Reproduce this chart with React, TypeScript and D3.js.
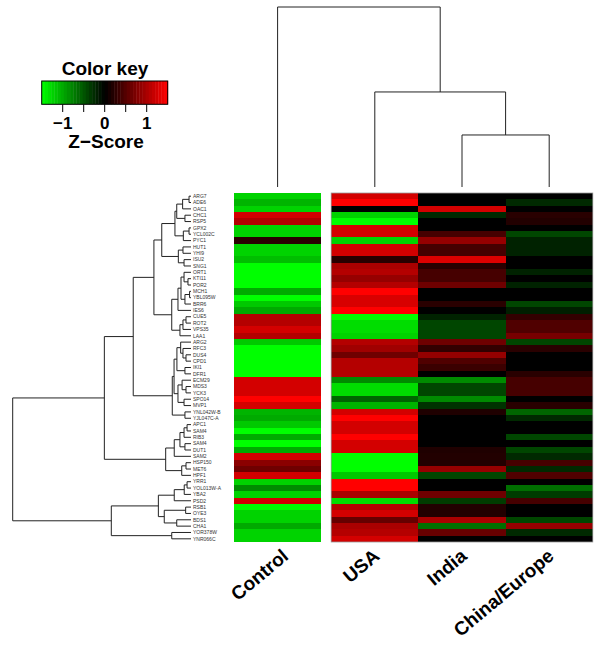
import React from 'react';
import * as d3 from 'd3';

// gene labels, top to bottom (same order as the dendrogram leaves)
const geneLabels = [
  'ARG7', 'ADE6', 'OAC1', 'CHC1', 'RSP5', 'GPX2', 'YCL002C', 'PYC1', 'HUT1', 'YHI9',
  'ISU2', 'SNG1', 'ORT1', 'KTI11', 'POR2', 'MCH1', 'YBL095W', 'BRR6', 'IES6', 'CUE5',
  'ROT2', 'VPS35', 'LAA1', 'ARG2', 'RFC3', 'DUS4', 'CPD1', 'IKI1', 'DFR1', 'ECM29',
  'MDS3', 'YCK3', 'SPO14', 'MVP1', 'YNL042W-B', 'YJL047C-A', 'APC1', 'SAM4', 'RIB3', 'SAM4',
  'DUT1', 'SAM2', 'HSP150', 'MET6', 'HPF1', 'YRR1', 'YOL013W-A', 'YBA2', 'PSD2', 'RSB1',
  'OYE3', 'BDS1', 'CHA1', 'YOR378W', 'YNR066C',
];

const conditions = ['Control', 'USA', 'India', 'China/Europe'];

// z-scores per condition, one value per gene
const controlZ = [
  -1.24, -1.06, -1.24, 1.24, 1.06, -1.24, -1.24, 0.24, -1.24, -1.24,
  -1.12, -1.5, -1.5, -1.5, -1.5, -1.0, -1.5, -1.18, -1.0, 1.06,
  1.06, 1.24, 1.06, -1.18, -1.5, -1.5, -1.5, -1.5, -1.5, 1.24,
  1.24, 1.24, 1.5, 1.24, -1.06, -1.0, -1.18, -1.5, -1.0, -1.5,
  -1.0, 1.24, 0.82, 0.65, 1.24, -1.24, -0.82, -1.24, 1.24, -1.5,
  -1.24, -1.24, -1.0, -1.24, -1.24,
];
const usaZ = [
  1.24, 1.5, 0, -1.24, -1.5, 1.24, 1.24, -1.24, 1.24, 1.24,
  0.24, 1.0, 1.06, 0.88, 1.06, 1.5, 1.27, 1.27, 1.5, -1.5,
  -1.3, -1.3, -1.24, 1.06, 0.94, 0.65, 1.06, 1.06, 1.06, -0.82,
  -1.3, -1.3, -0.6, -1.06, 1.24, 1.5, 1.24, 1.24, 1.5, 1.24,
  1.24, -1.5, -1.5, -1.5, -1.18, 1.5, 1.5, 1.0, -1.3, 1.06,
  1.24, 0.6, 1.0, 1.06, 1.24,
];
const indiaZ = [
  0, 0, 1.24, -0.24, 0, 0, 0.41, 0.88, 0.41, 0.41,
  1.3, 0.24, 0.41, 0.41, 0.65, 0, 0, 0.24, 0, -0.2,
  -0.41, -0.41, -0.41, 0.65, 0.3, 0.88, 0.47, 0.35, 0, -0.82,
  -0.41, -0.41, -0.82, -0.3, 0.18, 0, 0, 0, 0, 0,
  0.18, 0.2, 0.2, 0.88, -0.41, 0, 0, 0.65, -0.35, 0.2,
  0.2, 1.0, -0.65, 0.6, 0,
];
const chinaZ = [
  0, -0.24, 0, 0.24, 0.2, 0, -0.41, -0.2, -0.2, -0.2,
  0, 0, -0.2, 0, -0.2, 0, 0, -0.41, -0.18, 0.3,
  0.47, 0.47, 0.7, -0.41, 0.24, 0, 0, 0, 0.24, 0.41,
  0.41, 0.41, 0, 0.24, -0.6, -0.24, 0, 0, -0.41, 0,
  -0.41, -0.24, 0.41, -0.24, 0.47, 0, -0.65, -0.35, 0.41, 0,
  0, -0.41, 0.88, -0.24, 0,
];

// dendrograms: [height, left, right], leaves are labels
type TreeNode = string | [number, TreeNode, TreeNode];

const rowTree: TreeNode = [10.0,
  [4.86,
    [3.24,
      [2.08,
        [1.64,
          [0.90,
            [0.80,
              [0.47, [0.11, 'ARG7', 'ADE6'], 'OAC1'],
              [0.34, 'CHC1', 'RSP5']],
            [0.43, [0.11, 'GPX2', 'YCL002C'], 'PYC1']],
          [0.71, [0.45, 'HUT1', 'YHI9'], [0.39, 'ISU2', 'SNG1']]],
        [1.08,
          [0.73,
            [0.56,
              [0.39, 'ORT1', [0.17, 'KTI11', 'POR2']],
              [0.34, [0.08, 'MCH1', 'YBL095W'], 'BRR6']],
            'IES6'],
          [0.62, [0.45, [0.28, 'CUE5', 'ROT2'], 'VPS35'], 'LAA1']]],
      [1.05,
        [0.95,
          [0.79,
            [0.58, 'ARG2', [0.45, 'RFC3', [0.28, 'DUS4', 'CPD1']]],
            [0.34, 'IKI1', 'DFR1']],
          [0.73,
            [0.5, 'ECM29', [0.28, 'MDS3', 'YCK3']],
            [0.39, 'SPO14', 'MVP1']]],
        [0.34, 'YNL042W-B', 'YJL047C-A']]],
    [1.42,
      [0.94,
        [0.62,
          [0.39, [0.22, 'APC1', 'SAM4'], 'RIB3'],
          [0.34, 'SAM4', 'DUT1']],
        'SAM2'],
      [0.52, [0.28, 'HSP150', 'MET6'], 'HPF1']]],
  [4.47,
    [1.83,
      [0.94, [0.38, [0.22, 'YRR1', 'YOL013W-A'], 'YBA2'], 'PSD2'],
      [1.50, [0.30, 'RSB1', 'OYE3'], [0.80, 'BDS1', 'CHA1']]],
    [1.08, 'YOR378W', 'YNR066C']]];

const colTree: TreeNode = [10.0, 'Control', [5.28, 'USA', [2.89, 'India', 'China/Europe']]];

const keyTicks = [-1, -0.5, 0, 0.5, 1];
const keyLabels = [-1, 0, 1];

const FONT = '"Liberation Sans", Arial, Helvetica, sans-serif';

// walk a tree, leaves take positions in order; returns one elbow path per merge
function treePaths(tree: TreeNode, leafPos: (i: number) => number, hPos: (h: number) => number,
  horizontal: boolean) {
  const paths: string[] = [];
  let n = 0;
  const pt = (p: number, h: number) => (horizontal ? `${hPos(h)},${p}` : `${p},${hPos(h)}`);
  const walk = (node: TreeNode): { p: number; h: number } => {
    if (typeof node === 'string') return { p: leafPos(n++), h: 0 };
    const [h, a, b] = node;
    const ca = walk(a);
    const cb = walk(b);
    paths.push(`M${pt(ca.p, ca.h)}L${pt(ca.p, h)}L${pt(cb.p, h)}L${pt(cb.p, cb.h)}`);
    return { p: (ca.p + cb.p) / 2, h };
  };
  walk(tree);
  return paths;
}

export default function App() {
  const top = 193;
  const bottom = 542;
  const colW = 87.2;
  const gap = 10;
  const left = 234;

  const values = [controlZ, usaZ, indiaZ, chinaZ];
  const colX = (i: number) => left + i * colW + (i > 0 ? gap : 0);

  const y = d3.scaleBand<number>().domain(d3.range(geneLabels.length)).range([top, bottom]);
  const color = d3.scaleLinear<string>()
    .domain([-1.5, 0, 1.5])
    .range(['#00ff00', '#000000', '#ff0000'])
    .clamp(true);

  // row dendrogram: height -> x
  const rowH = d3.scaleLinear().domain([0, 10]).range([191, 12.7]);
  const rowPaths = treePaths(rowTree, (i) => (y(i) as number) + y.bandwidth() / 2, rowH, true);

  // column dendrogram: height -> y
  const colH = d3.scaleLinear().domain([0, 10]).range([187, 7]);
  const colPaths = treePaths(colTree, (i) => colX(i) + colW / 2, colH, false);

  // color key
  const keyX = d3.scaleLinear().domain([-1.5, 1.5]).range([41.7, 167.7]);
  const keyBins = d3.range(-1.5, 1.5, 3 / 40);

  return (
    <svg width={600} height={646} style={{ position: 'absolute', left: 0, top: 0, background: '#fff' }}
      fontFamily={FONT}>
      {/* heatmap */}
      {values.map((col, ci) => (
        <g key={ci}>
          {col.map((v, ri) => (
            <rect key={ri} x={colX(ci)} y={y(ri)} width={colW} height={y.bandwidth() + 0.3}
              fill={color(v)} shapeRendering="crispEdges" />
          ))}
        </g>
      ))}
      <rect x={colX(1)} y={top} width={colW * 3} height={bottom - top} fill="none"
        stroke="#9a9a9a" strokeWidth={0.8} />

      {/* dendrograms */}
      <g fill="none" stroke="#222" strokeWidth={1}>
        {rowPaths.map((d, i) => <path key={i} d={d} />)}
        {colPaths.map((d, i) => <path key={'c' + i} d={d} />)}
      </g>

      {/* gene labels */}
      <g fontSize={5} fill="#333">
        {geneLabels.map((g, i) => (
          <text key={i} x={193} y={(y(i) as number) + y.bandwidth() / 2} dy="0.35em">{g}</text>
        ))}
      </g>

      {/* condition labels */}
      <g fontSize={19} fontWeight="bold" fill="#000">
        {conditions.map((c, i) => {
          const cx = colX(i) + colW / 2 + (i === 0 ? 12 : 6);
          const cy = 558;
          return (
            <text key={c} transform={`translate(${cx},${cy}) rotate(-40)`} textAnchor="end">{c}</text>
          );
        })}
      </g>

      {/* color key */}
      <text x={105} y={75} textAnchor="middle" fontSize={19} fontWeight="bold">Color key</text>
      {keyBins.map((b, i) => (
        <rect key={i} x={keyX(b)} y={81} width={keyX(b + 3 / 40) - keyX(b) + 0.4} height={23.3}
          fill={color(b + 3 / 80)} />
      ))}
      <rect x={41.7} y={81} width={126} height={23.3} fill="none" stroke="#000" strokeWidth={1} />
      {keyTicks.map((t) => (
        <line key={t} x1={keyX(t)} x2={keyX(t)} y1={104.3} y2={112} stroke="#000" strokeWidth={1} />
      ))}
      {keyLabels.map((t) => (
        <text key={t} x={keyX(t)} y={128.5} textAnchor="middle" fontSize={17} fontWeight="bold">
          {t < 0 ? '\u2212' + Math.abs(t) : String(t)}
        </text>
      ))}
      <text x={106} y={148} textAnchor="middle" fontSize={19} fontWeight="bold">Z{'\u2212'}Score</text>
    </svg>
  );
}
